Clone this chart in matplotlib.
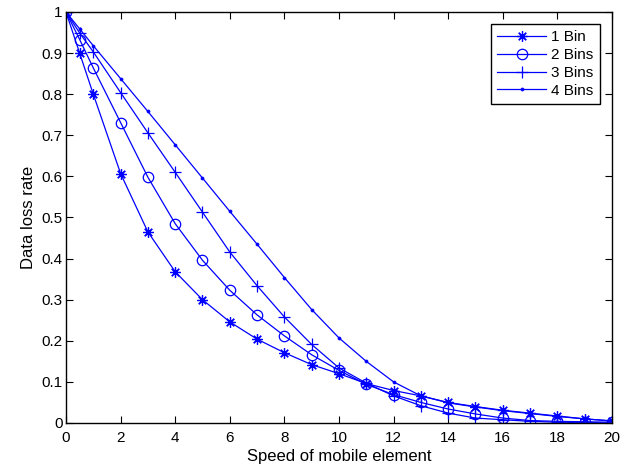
import matplotlib
matplotlib.use("Agg")
import matplotlib.pyplot as plt
import numpy as np

plt.rcParams['font.family'] = ['Liberation Sans', 'DejaVu Sans']

# speed values (first step at 0.5)
speed = [0, 0.5] + list(range(1, 21))

bin1 = [1, 0.90, 0.80, 0.607, 0.465, 0.368, 0.300, 0.246, 0.204, 0.171, 0.142,
        0.120, 0.096, 0.079, 0.066, 0.050, 0.040, 0.031, 0.024, 0.017, 0.010, 0.005]
bin2 = [1, 0.933, 0.864, 0.731, 0.598, 0.485, 0.396, 0.323, 0.263, 0.212, 0.166,
        0.128, 0.094, 0.069, 0.050, 0.034, 0.022, 0.012, 0.006, 0.004, 0.003, 0.002]
bin3 = [1, 0.949, 0.903, 0.804, 0.706, 0.610, 0.513, 0.416, 0.334, 0.258, 0.191,
        0.134, 0.097, 0.066, 0.042, 0.024, 0.012, 0.008, 0.004, 0.002, 0.001, 0.0]
bin4 = [1, 0.959, 0.918, 0.838, 0.758, 0.677, 0.596, 0.515, 0.435, 0.354, 0.276,
        0.207, 0.150, 0.100, 0.066, 0.049, 0.039, 0.030, 0.023, 0.016, 0.010, 0.005]

labels = ['1 Bin', '2 Bins', '3 Bins', '4 Bins']

fig = plt.figure(figsize=(6.26, 4.70), dpi=100)
ax = fig.add_axes([0.1054, 0.1, 0.8722, 0.8745])

blue = (0, 0, 1)
lw = 0.9
ax.plot(speed, bin1, color=blue, lw=lw, marker=(8, 2, 0), ms=7.5, mew=0.9, label=labels[0])
ax.plot(speed, bin2, color=blue, lw=lw, marker='o', ms=7.5, mfc='none', mew=0.9, label=labels[1])
ax.plot(speed, bin3, color=blue, lw=lw, marker='+', ms=9, mew=0.9, label=labels[2])
ax.plot(speed, bin4, color=blue, lw=lw, marker='o', ms=2.2, mew=0.5, label=labels[3])

ax.set_xlim(0, 20)
ax.set_ylim(0, 1)
ax.set_xticks(np.arange(0, 21, 2))
ax.set_yticks(np.arange(0, 1.01, 0.1))
ax.set_yticklabels(['0', '0.1', '0.2', '0.3', '0.4', '0.5', '0.6', '0.7', '0.8', '0.9', '1'])
ax.tick_params(direction='in', top=True, right=True, labelsize=11, length=5, width=0.8)
ax.tick_params(axis='x', pad=6)
ax.tick_params(axis='y', pad=2.5)
for s in ax.spines.values():
    s.set_linewidth(1.0)

ax.set_xlabel('Speed of mobile element', fontsize=12, labelpad=3)
ax.set_ylabel('Data loss rate', fontsize=12, labelpad=4)

leg = ax.legend(loc='upper right', fontsize=11, fancybox=False, edgecolor='black',
                framealpha=1, handlelength=3.2, borderpad=0.4, labelspacing=0.25,
                handletextpad=0.35, borderaxespad=0.8)
leg.get_frame().set_linewidth(1.0)

fig.savefig('out.png', dpi=100)
